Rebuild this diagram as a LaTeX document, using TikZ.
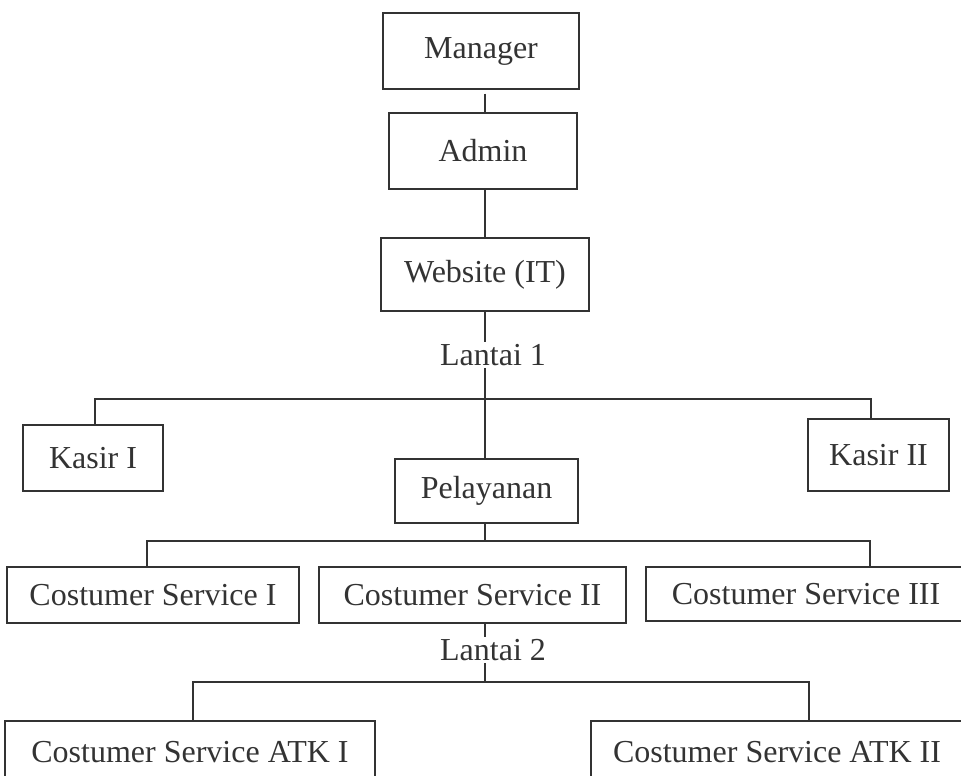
\documentclass[tikz,border=0pt]{standalone}
\usepackage{fontspec}
\setmainfont{Liberation Serif}
\usepackage{tikz}

\begin{document}
\begin{tikzpicture}[x=0.5pt,y=-0.5pt,
    box/.style={draw=black!80, line width=0.7pt, text=black!80, inner sep=0pt,
        font=\fontsize{16}{19}\selectfont},
    lbl/.style={text=black!80, inner sep=1pt, font=\fontsize{16}{19}\selectfont},
    link/.style={draw=black!80, line width=0.7pt}]

    \useasboundingbox (0, 0) rectangle (961, 775);

    % upper chain
    \node[box, minimum width=98pt, minimum height=38pt] (mgr) at (481, 51) {Manager};
    \node[box, minimum width=94pt, minimum height=38pt] (adm) at (483, 151) {Admin};
    \node[box, minimum width=104pt, minimum height=36.5pt] (web) at (485, 274.5) {Website (IT)};
    \node[lbl] (lt1) at (493, 355) {Lantai 1};

    % lantai 1
    \node[box, minimum width=70pt, minimum height=33pt] (ksr1) at (93, 458) {Kasir I};
    \node[box, minimum width=70.5pt, minimum height=36pt] (ksr2) at (878.5, 455) {Kasir II};
    \node[box, minimum width=91.5pt, minimum height=32pt] (pel) at (486.5, 491) {Pelayanan};
    \node[box, minimum width=146pt, minimum height=28pt] (cs1) at (153, 595) {Costumer Service I};
    \node[box, minimum width=153.5pt, minimum height=28pt] (cs2) at (472.5, 595) {Costumer Service II};
    \node[box, minimum width=160pt, minimum height=27pt] (cs3) at (806, 594) {Costumer Service III};
    \node[lbl] (lt2) at (493, 650) {Lantai 2};

    % lantai 2
    \node[box, minimum width=185pt, minimum height=31pt] (atk1) at (190, 752) {Costumer Service ATK I};
    \node[box, minimum width=186pt, minimum height=31pt] (atk2) at (777, 752) {Costumer Service ATK II};

    \coordinate (b1) at (485, 399);
    \coordinate (b1w) at (95, 399);
    \coordinate (b1e) at (871, 399);
    \coordinate (b2) at (485, 541);
    \coordinate (b2w) at (147, 541);
    \coordinate (b2e) at (870, 541);
    \coordinate (b3) at (485, 682);
    \coordinate (b3w) at (193, 682);
    \coordinate (b3e) at (809, 682);

    \draw[link] ([yshift=-2pt]b1 |- mgr.south) -- (b1 |- adm.north);
    \draw[link] (b1 |- adm.south) -- (b1 |- web.north);
    \draw[link] (b1 |- web.south) -- (b1 |- lt1.north);
    \draw[link] (b1 |- lt1.south) -- (b1) -- (b1 |- pel.north);
    \draw[link] (b1w |- ksr1.north) -- (b1w) -- (b1e) -- (b1e |- ksr2.north);
    \draw[link] (b2 |- pel.south) -- (b2);
    \draw[link] (b2w |- cs1.north) -- (b2w) -- (b2e) -- (b2e |- cs3.north);
    \draw[link] (b2 |- cs2.south) -- (b2 |- lt2.north);
    \draw[link] (b3 |- lt2.south) -- (b3);
    \draw[link] (b3w |- atk1.north) -- (b3w) -- (b3e) -- (b3e |- atk2.north);

\end{tikzpicture}
\end{document}
